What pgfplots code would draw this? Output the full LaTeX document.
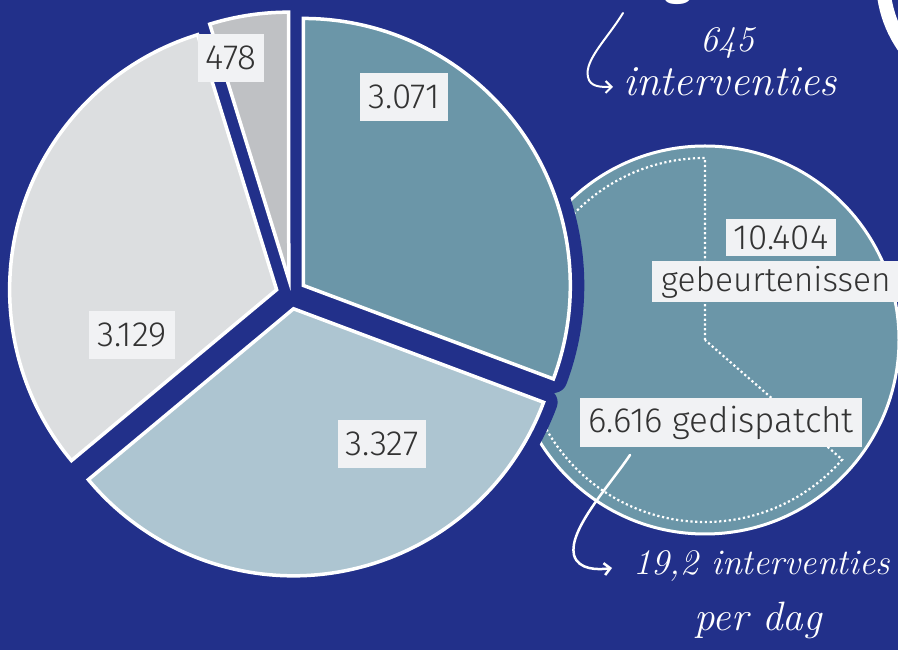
\documentclass[border=0pt]{standalone}
\usepackage{pgfplots}
\pgfplotsset{compat=1.18}
\usepackage{pgfplotstable}
\usepackage{fontspec}
\usetikzlibrary{arrows.meta}
\newfontfamily\lab{Fira Sans Light}
\newfontfamily\labbold{Fira Sans}[BoldFont={* Bold}]
\definecolor{bg}{RGB}{34,48,138}
\definecolor{cA}{RGB}{107,150,168}
\definecolor{cB}{RGB}{173,197,209}
\definecolor{cC}{RGB}{220,222,224}
\definecolor{cD}{RGB}{191,193,196}
\definecolor{boxc}{RGB}{241,242,244}
\definecolor{txt}{RGB}{51,51,51}

\pgfplotstableread{
label value
3.071 3071
3.327 3327
3.129 3129
478 478
}\piedata

\newcommand\pieslice[3]{%
  \path[#3, shift={(axis cs:291,356)}] ({(#1+#2)/2}:15pt) -- ++(#1:267pt)
     arc[start angle=#1, end angle=#2, radius=267pt] -- cycle;}

\tikzset{lbl/.style={fill=boxc, text=txt, font=\lab\fontsize{35}{35}\selectfont, inner xsep=8pt, minimum height=48pt, anchor=center},
 hand/.style={text=white, anchor=center}}

\begin{document}
\begin{tikzpicture}
\pgfplotstablegetelem{0}{value}\of\piedata \let\vA\pgfplotsretval
\pgfplotstablegetelem{1}{value}\of\piedata \let\vB\pgfplotsretval
\pgfplotstablegetelem{2}{value}\of\piedata \let\vC\pgfplotsretval
\pgfplotstablegetelem{3}{value}\of\piedata \let\vD\pgfplotsretval
\pgfmathsetmacro\tot{\vA+\vB+\vC+\vD}
\pgfmathsetmacro\aA{90}
\pgfmathsetmacro\aB{\aA-\vA/\tot*360}
\pgfmathsetmacro\aC{\aB-\vB/\tot*360}
\pgfmathsetmacro\aD{\aC-\vC/\tot*360}
\pgfmathsetmacro\aE{\aD-\vD/\tot*360}
% dispatched share of right circle
\pgfmathsetmacro\dEnd{90+6616/10404*360}
\useasboundingbox (0,0) rectangle (898pt,650pt);
\clip (0,0) rectangle (898pt,650pt);
\fill[bg] (0,0) rectangle (898pt,650pt);
\begin{axis}[hide axis, x=1pt, y=1pt, xmin=0, xmax=898, ymin=0, ymax=650,
  at={(0,0)}, anchor=south west, clip=false]
% big white ring top right
\draw[white, line width=14pt] (axis cs:1000,670) circle[radius=117pt];
\node[text=white, font=\labbold\bfseries\fontsize{50}{50}\selectfont, anchor=base] at (axis cs:678,656) {g};
% right circle
\fill[cA, draw=white, line width=3pt] (axis cs:705,310) circle[radius=194pt];
\draw[white, line width=2.2pt, dash pattern=on 2.2pt off 2.6pt, shift={(axis cs:705,310)}]
  (0pt,0pt) -- (90:182pt) arc[start angle=90, end angle=\dEnd, radius=182pt] -- cycle;
% main pie: blue separation
\pieslice{\aA}{\aB}{draw=bg, fill=bg, line width=28pt, line join=round}
\pieslice{\aB}{\aC}{draw=bg, fill=bg, line width=28pt, line join=round}
\pieslice{\aC}{\aD}{draw=bg, fill=bg, line width=28pt, line join=round}
\pieslice{\aD}{\aE}{draw=bg, fill=bg, line width=28pt, line join=round}
\pieslice{\aA}{\aB}{fill=cA, draw=white, line width=3.5pt}
\pieslice{\aB}{\aC}{fill=cB, draw=white, line width=3.5pt}
\pieslice{\aC}{\aD}{fill=cC, draw=white, line width=3.5pt}
\pieslice{\aD}{\aE}{fill=cD, draw=white, line width=3.5pt}
% labels
\node[lbl] at (axis cs:404,553) {3.071};
\node[lbl] at (axis cs:382,206) {3.327};
\node[lbl] at (axis cs:132,315) {3.129};
\node[lbl] at (axis cs:231,592) {478};
\node[lbl, minimum height=37pt] at (axis cs:781,412) {10.404};
\node[lbl, font=\lab\fontsize{33.5}{33.5}\selectfont, minimum height=41pt, anchor=west, inner xsep=9pt] at (axis cs:652,368) {gebeurtenissen};
\node[lbl, minimum height=49pt] at (axis cs:721,227) {6.616 gedispatcht};
% handwritten notes
\node[hand, font=\itshape\fontsize{36}{36}\selectfont] at (axis cs:727,607) {645};
\node[hand, font=\itshape\fontsize{43}{43}\selectfont] at (axis cs:730,568) {interventies};
\node[hand, font=\itshape\fontsize{36}{36}\selectfont] at (axis cs:762,84) {19,2 interventies};
\node[hand, font=\itshape\fontsize{41}{41}\selectfont] at (axis cs:758,30) {per dag};
\draw[white, line width=2pt, line cap=round, -{Straight Barb[length=6pt,width=12pt]}]
  (axis cs:623,637) .. controls (axis cs:608,612) and (axis cs:584,590) .. (axis cs:588,573)
  .. controls (axis cs:590,563) and (axis cs:600,563) .. (axis cs:613,563);
\draw[white, line width=2.5pt, line cap=round, -{Straight Barb[length=6pt,width=12pt]}]
  (axis cs:630,195) .. controls (axis cs:610,165) and (axis cs:568,120) .. (axis cs:574,95)
  .. controls (axis cs:578,80) and (axis cs:598,80) .. (axis cs:612,82);
\end{axis}
\end{tikzpicture}
\end{document}
